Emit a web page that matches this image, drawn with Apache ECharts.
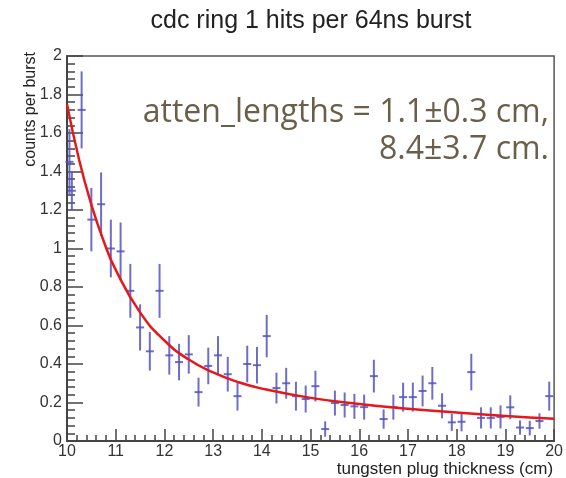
<!DOCTYPE html>
<html>
<head>
<meta charset="utf-8">
<script src="https://cdn.jsdelivr.net/npm/echarts@6/dist/echarts.min.js"></script>
<style>
html, body { margin: 0; padding: 0; background: #fff; }
#chart { width: 566px; height: 478px; }
</style>
</head>
<body>
<div id="chart"></div>
<script>
// measured points (thickness in cm, counts per burst, error)
var thickness = [10.05, 10.1, 10.3, 10.5, 10.7, 10.9, 11.1, 11.3, 11.5, 11.7, 11.9,
    12.1, 12.3, 12.5, 12.7, 12.9, 13.1, 13.3, 13.5, 13.7, 13.9,
    14.1, 14.3, 14.5, 14.7, 14.9, 15.1, 15.3, 15.5, 15.7, 15.9,
    16.1, 16.3, 16.5, 16.7, 16.9, 17.1, 17.3, 17.5, 17.7, 17.9,
    18.1, 18.3, 18.5, 18.7, 18.9, 19.1, 19.3, 19.5, 19.7, 19.9];
var counts = [1.45, 1.3, 1.72, 1.15, 1.23, 1.0, 0.985, 0.78, 0.59, 0.466, 0.78,
    0.445, 0.41, 0.45, 0.254, 0.39, 0.445, 0.347, 0.233, 0.40, 0.394,
    0.545, 0.275, 0.30, 0.233, 0.218, 0.285, 0.062, 0.197, 0.187, 0.18,
    0.176, 0.337, 0.114, 0.176, 0.228, 0.228, 0.26, 0.30, 0.183, 0.097,
    0.10, 0.358, 0.12, 0.12, 0.125, 0.175, 0.07, 0.067, 0.104, 0.233];
var countErrors = [0.17, 0.1, 0.20, 0.165, 0.165, 0.15, 0.15, 0.14, 0.12, 0.10, 0.14,
    0.10, 0.095, 0.10, 0.075, 0.095, 0.10, 0.09, 0.075, 0.095, 0.095,
    0.11, 0.08, 0.08, 0.075, 0.07, 0.08, 0.04, 0.065, 0.065, 0.065,
    0.065, 0.085, 0.05, 0.065, 0.075, 0.075, 0.08, 0.085, 0.065, 0.045,
    0.05, 0.095, 0.055, 0.055, 0.06, 0.062, 0.037, 0.038, 0.04, 0.075];

// red fit curve
var fitThickness = [10, 10.25, 10.5, 10.75, 11, 11.5, 12, 12.5, 13, 13.5, 14, 15, 16, 17, 18, 19, 20];
var fitCounts = [1.75, 1.46, 1.228, 1.04, 0.889, 0.668, 0.522, 0.423, 0.356, 0.307, 0.272, 0.224, 0.192, 0.168, 0.148, 0.13, 0.116];

var titleText = 'cdc ring 1 hits per 64ns burst';
var fitText = 'atten_lengths = 1.1\u00b10.3 cm,\n8.4\u00b13.7 cm.';

var points = thickness.map(function (x, i) { return [x, counts[i], countErrors[i]]; });
var fitLine = fitThickness.map(function (x, i) { return [x, fitCounts[i]]; });

var barColor = 'rgba(85,85,190,0.85)';
var axisColor = '#444';
var labelFont = '"Liberation Sans", Arial, sans-serif';

var chart = echarts.init(document.getElementById('chart'));

chart.setOption({
    animation: false,
    grid: {
        left: 67, right: 10, top: 56, bottom: 36,
        show: true, borderColor: '#555', borderWidth: 1.5
    },
    xAxis: {
        type: 'value',
        min: 10, max: 20, interval: 1,
        axisLine: { lineStyle: { color: axisColor, width: 2 } },
        axisTick: { inside: true, length: 12, lineStyle: { color: axisColor, width: 1.5 } },
        minorTick: { show: true, splitNumber: 5, length: 6, lineStyle: { color: axisColor, width: 1.5 } },
        axisLabel: { color: '#333', fontSize: 16, fontFamily: labelFont, margin: 3 },
        splitLine: { show: false },
        name: 'tungsten plug thickness (cm)',
        nameLocation: 'end',
        nameGap: -1,
        nameTextStyle: {
            color: '#222', fontSize: 17, fontFamily: labelFont,
            align: 'right', verticalAlign: 'top', padding: [20, 0, 0, 0]
        }
    },
    yAxis: {
        type: 'value',
        min: 0, max: 2, interval: 0.2,
        axisLine: { lineStyle: { color: axisColor, width: 2 } },
        axisTick: { inside: true, length: 16, lineStyle: { color: axisColor, width: 1.5 } },
        minorTick: { show: true, splitNumber: 5, length: 8, lineStyle: { color: axisColor, width: 1.5 } },
        axisLabel: { color: '#333', fontSize: 16, fontFamily: labelFont, margin: 5 },
        splitLine: { show: false }
    },
    graphic: [
        {
            type: 'text', x: 311, y: 21,
            style: {
                text: titleText, textAlign: 'center', textVerticalAlign: 'middle',
                font: '25px "Liberation Sans", Arial, sans-serif', fill: '#222'
            }
        },
        {
            type: 'text', x: 31, y: 52, rotation: Math.PI / 2,
            style: {
                text: 'counts per burst', textAlign: 'right', textVerticalAlign: 'middle',
                font: '16px "Liberation Sans", Arial, sans-serif', fill: '#222'
            }
        },
        {
            type: 'text', x: 549, y: 94, z: 100,
            style: {
                text: fitText, textAlign: 'right', textVerticalAlign: 'top',
                font: '32px "Open Sans", sans-serif', fill: '#6a5f48', lineHeight: 37
            }
        }
    ],
    series: [
        {
            type: 'custom',
            data: points,
            encode: { x: 0, y: 1 },
            renderItem: function (params, api) {
                var x = api.value(0), y = api.value(1), e = api.value(2);
                var c = api.coord([x, y]);
                var lo = api.coord([x, y - e]);
                var hi = api.coord([x, y + e]);
                var st = { stroke: barColor, lineWidth: 2 };
                return {
                    type: 'group',
                    children: [
                        { type: 'line', shape: { x1: lo[0], y1: lo[1], x2: hi[0], y2: hi[1] }, style: st },
                        { type: 'line', shape: { x1: c[0] - 4, y1: c[1], x2: c[0] + 4, y2: c[1] }, style: st }
                    ]
                };
            }
        },
        {
            type: 'line',
            data: fitLine,
            smooth: true,
            showSymbol: false,
            symbol: 'none',
            z: 5,
            lineStyle: { color: '#e3191c', width: 2.5 }
        }
    ]
});
</script>
</body>
</html>
